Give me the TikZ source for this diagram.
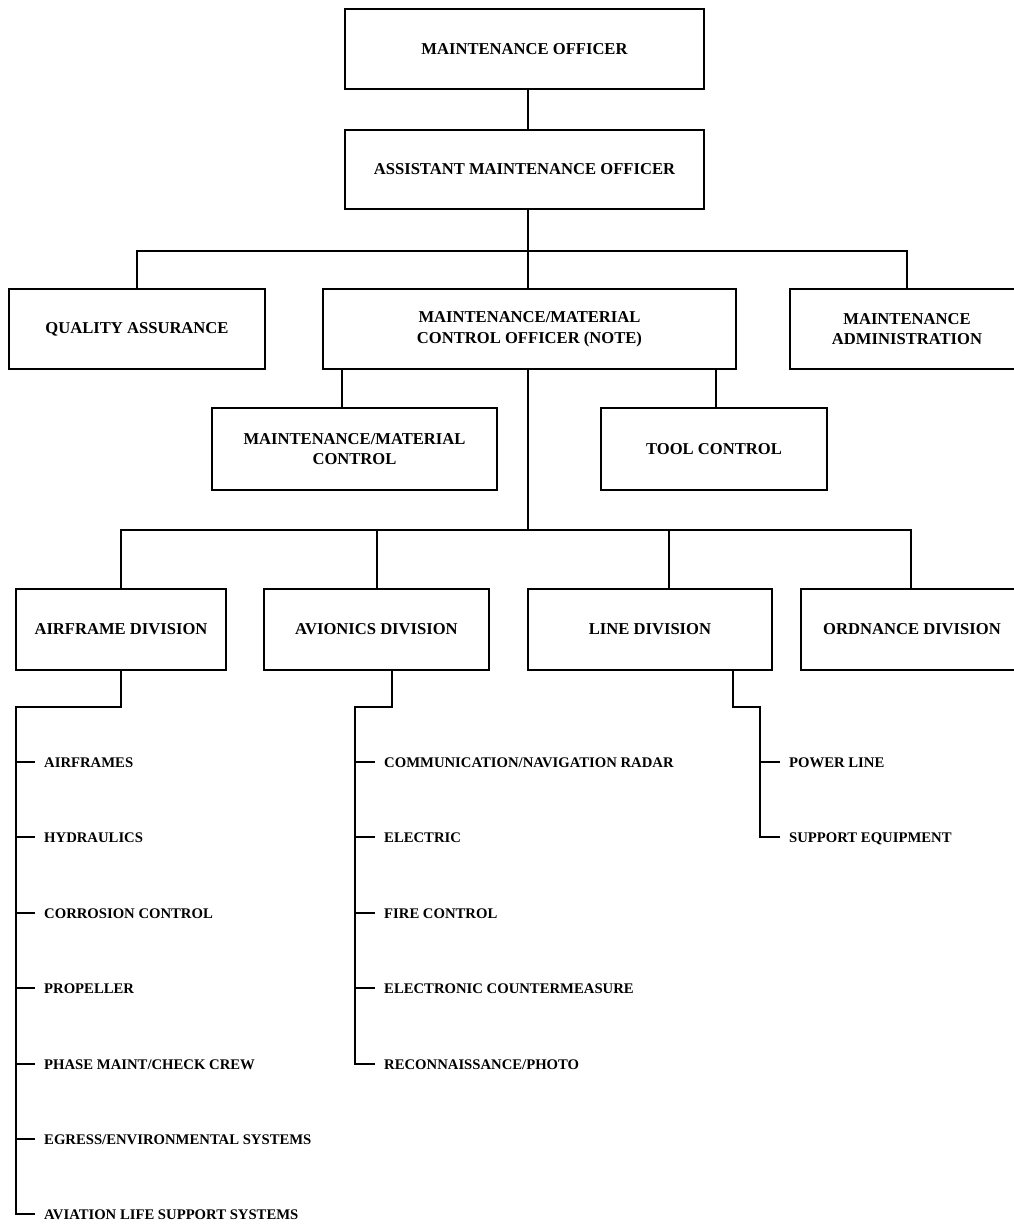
\documentclass[tikz,border=0pt]{standalone}
\usepackage{fontspec}
\setmainfont{Liberation Serif}
\begin{document}
\begin{tikzpicture}[x=1pt,y=-1pt,
  orgbox/.style={draw=black,line width=1.5pt,align=center,inner sep=0pt,
    font=\fontsize{16.6}{20.8}\selectfont\bfseries},
  item/.style={anchor=west,inner xsep=9pt,inner ysep=0pt,text height=10pt,text depth=0pt,
    font=\fontsize{14.7}{18}\selectfont\bfseries},
  link/.style={line width=1.5pt,draw=black}]
\useasboundingbox[fill=white] (0,0) rectangle (1013,1224);
% boxes
\node[orgbox,minimum width=359pt,minimum height=80pt] (mo) at (524.5,49) {MAINTENANCE OFFICER};
\node[orgbox,minimum width=359pt,minimum height=79pt] (amo) at (524.5,169.5) {ASSISTANT MAINTENANCE OFFICER};
\node[orgbox,minimum width=256pt,minimum height=80pt] (qa) at (137,329) {QUALITY ASSURANCE};
\node[orgbox,minimum width=413pt,minimum height=80pt] (mmco) at (529.5,329) {MAINTENANCE/MATERIAL\\CONTROL OFFICER (NOTE)};
\node[orgbox,minimum width=234pt,minimum height=80pt] (ma) at (907,329) {MAINTENANCE\\ADMINISTRATION};
\node[orgbox,minimum width=285pt,minimum height=82pt] (mmc) at (354.5,449) {MAINTENANCE/MATERIAL\\CONTROL};
\node[orgbox,minimum width=226pt,minimum height=82pt] (tc) at (714,449) {TOOL CONTROL};
\node[orgbox,minimum width=210pt,minimum height=81pt] (af) at (121,629.5) {AIRFRAME DIVISION};
\node[orgbox,minimum width=225pt,minimum height=81pt] (av) at (376.5,629.5) {AVIONICS DIVISION};
\node[orgbox,minimum width=244pt,minimum height=81pt] (ld) at (650,629.5) {LINE DIVISION};
\node[orgbox,minimum width=222pt,minimum height=81pt] (od) at (912,629.5) {ORDNANCE DIVISION};
% junction coordinates
\coordinate (bus1) at (528,251);
\coordinate (bus2) at (528,530);
\coordinate (mmcx) at (342,369);
\coordinate (tcx) at (716,369);
\coordinate (avx) at (377,530);
\coordinate (ldx) at (669,530);
\coordinate (odx) at (911,530);
% top connectors
\draw[link] (mo.south -| bus1) -- (amo.north -| bus1);
\draw[link] (amo.south -| bus1) -- (bus1);
\draw[link] (qa.north) |- (bus1) -| (ma.north);
\draw[link] (bus1) -- (mmco.north -| bus1);
\draw[link] (mmcx) -- (mmc.north -| mmcx);
\draw[link] (tcx) -- (tc.north -| tcx);
\draw[link] (mmco.south -| bus2) -- (bus2);
\draw[link] (af.north) |- (bus2) -| (od.north -| odx);
\draw[link] (avx) -- (av.north -| avx);
\draw[link] (ldx) -- (ld.north -| ldx);
% sub items
\coordinate (afk) at (16,707);
\coordinate (avt) at (392,707);
\coordinate (avk) at (355,707);
\coordinate (ldt) at (733,707);
\coordinate (ldk) at (760,707);
\foreach \n/\t/\y in {af1/{AIRFRAMES}/762,af2/{HYDRAULICS}/837,af3/{CORROSION CONTROL}/913,af4/{PROPELLER}/988,af5/{PHASE MAINT/CHECK CREW}/1064,af6/{EGRESS/ENVIRONMENTAL SYSTEMS}/1139,af7/{AVIATION LIFE SUPPORT SYSTEMS}/1214}
  \node[item] (\n) at (35,\y) {\t};
\foreach \n/\t/\y in {av1/{COMMUNICATION/NAVIGATION RADAR}/762,av2/{ELECTRIC}/837,av3/{FIRE CONTROL}/913,av4/{ELECTRONIC COUNTERMEASURE}/988,av5/{RECONNAISSANCE/PHOTO}/1064}
  \node[item] (\n) at (375,\y) {\t};
\foreach \n/\t/\y in {ld1/{POWER LINE}/762,ld2/{SUPPORT EQUIPMENT}/837}
  \node[item] (\n) at (780,\y) {\t};
\draw[link] (af.south) -- (af.south |- afk) -- (afk) -- (afk |- af7.west) -- (af7.west);
\foreach \n in {af1,af2,af3,af4,af5,af6} \draw[link] (afk |- \n.west) -- (\n.west);
\draw[link] (av.south -| avt) -- (avt) -- (avk) -- (avk |- av5.west) -- (av5.west);
\foreach \n in {av1,av2,av3,av4} \draw[link] (avk |- \n.west) -- (\n.west);
\draw[link] (ld.south -| ldt) -- (ldt) -- (ldk) -- (ldk |- ld2.west) -- (ld2.west);
\draw[link] (ldk |- ld1.west) -- (ld1.west);
\end{tikzpicture}
\end{document}
